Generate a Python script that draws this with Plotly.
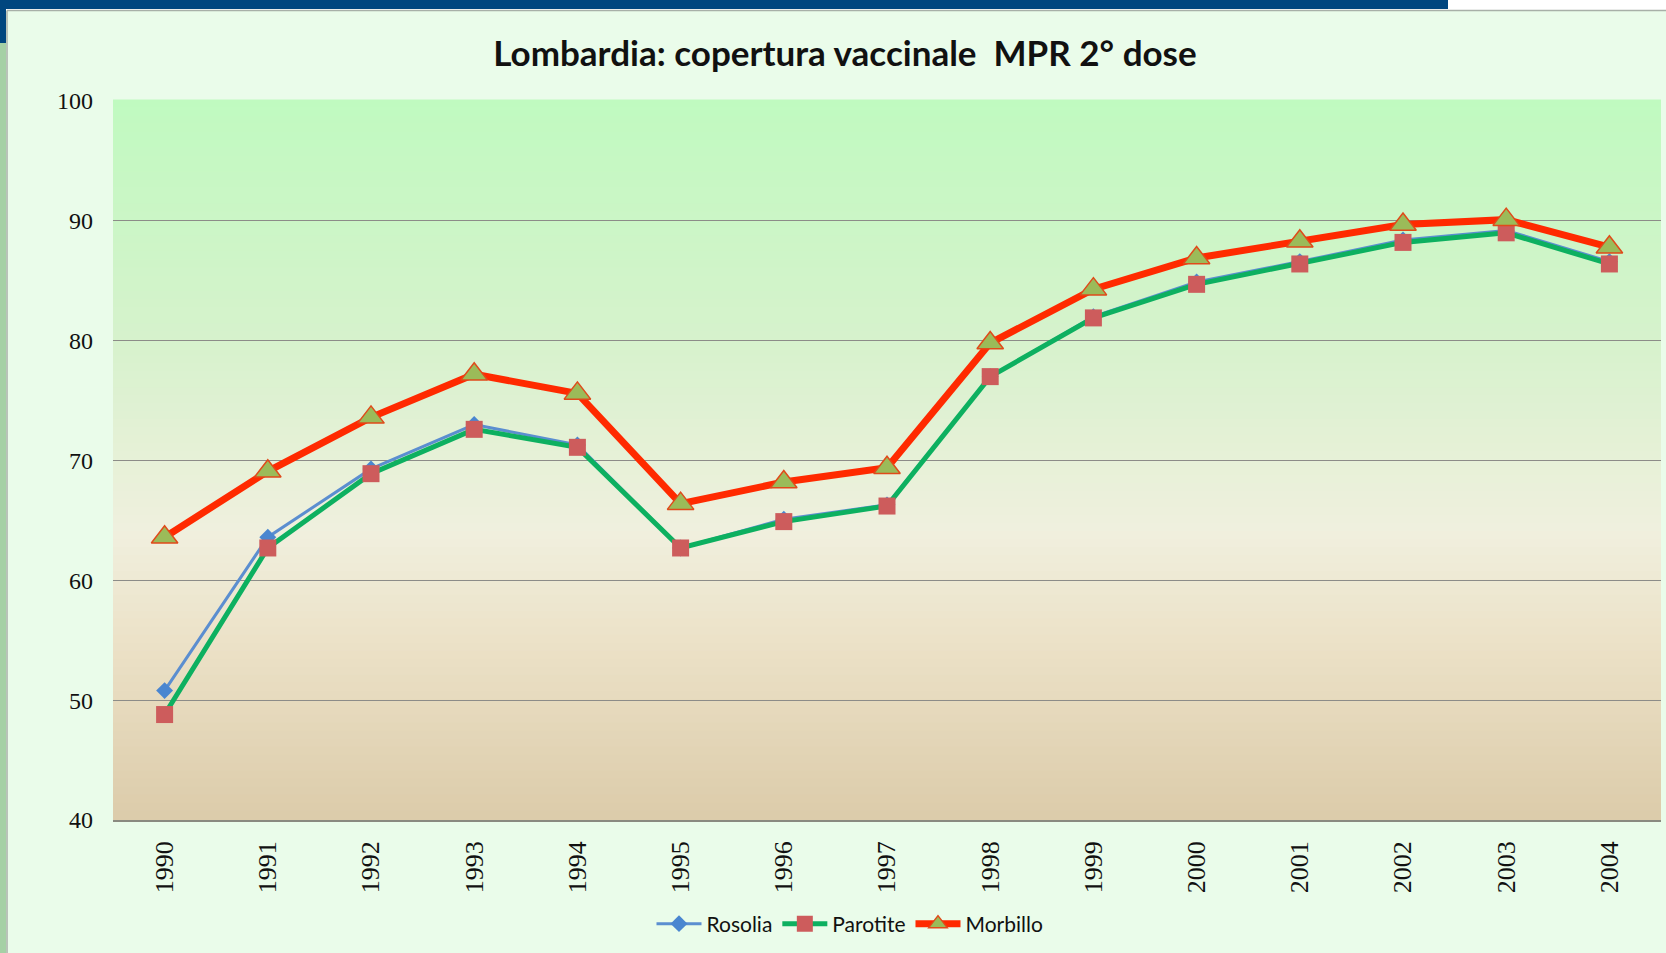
import plotly.graph_objects as go

years = ["1990", "1991", "1992", "1993", "1994", "1995", "1996", "1997",
         "1998", "1999", "2000", "2001", "2002", "2003", "2004"]
rosolia = [50.8, 63.6, 69.3, 73.0, 71.3, 62.7, 65.1, 66.3, 77.0, 82.0, 84.9, 86.6, 88.4, 89.2, 86.6]
parotite = [48.8, 62.7, 68.9, 72.6, 71.1, 62.7, 64.9, 66.2, 77.0, 81.9, 84.7, 86.4, 88.2, 89.0, 86.4]
morbillo = [63.6, 69.1, 73.6, 77.2, 75.6, 66.4, 68.2, 69.4, 79.8, 84.3, 86.9, 88.3, 89.7, 90.1, 87.8]
y_ticks = [40, 50, 60, 70, 80, 90, 100]

W, H = 1666, 953
L, R, T, B = 113, 1661, 101, 820


def px(x):
    return (x - L) / (R - L)


def py(y):
    return (B - y) / (B - T)


fig = go.Figure()
fig.add_trace(go.Scatter(
    x=years, y=rosolia, name="Rosolia", mode="lines+markers",
    line=dict(color="#5b8ed0", width=3),
    marker=dict(symbol="diamond", size=13, color="#4a86d0"),
))
fig.add_trace(go.Scatter(
    x=years, y=parotite, name="Parotite", mode="lines+markers",
    line=dict(color="#0db060", width=5),
    marker=dict(symbol="square", size=17, color="#cd5c5c"),
))
fig.add_trace(go.Scatter(
    x=years, y=morbillo, name="Morbillo", mode="lines+markers",
    line=dict(color="#ff2a00", width=7),
    marker=dict(symbol="triangle-up", size=23, color="#9bbb59",
                line=dict(color="#e04a1a", width=1.5)),
))

shapes = []
# gradient background of plot area
stops = [(0.0, (192, 250, 192)), (0.33, (214, 242, 204)), (0.6, (240, 240, 222)),
         (0.75, (236, 226, 200)), (1.0, (220, 203, 170))]


def col(t):
    for (t0, c0), (t1, c1) in zip(stops[:-1], stops[1:]):
        if t0 <= t <= t1:
            f = (t - t0) / (t1 - t0)
            return "rgb(%d,%d,%d)" % tuple(round(a + (b - a) * f) for a, b in zip(c0, c1))
    return "rgb(%d,%d,%d)" % stops[-1][1]


N = 90
for i in range(N):
    t0 = i / N
    t1 = (i + 1) / N
    shapes.append(dict(type="rect", xref="paper", yref="paper", x0=0, x1=1,
                       y0=1 - t1, y1=1 - t0 + 0.002, fillcolor=col((t0 + t1) / 2),
                       line=dict(width=0), layer="below"))

# slide frame
frame = [
    (0, W, 0, 10.5, "#ffffff"),
    (0, 1448, 0, 9, "#00467f"),
    (0, 6, 0, 43, "#00467f"),
    (0, 6, 43, H, "#a5d0a5"),
]
for x0, x1, y0, y1, c in frame:
    shapes.append(dict(type="rect", xref="paper", yref="paper", x0=px(x0), x1=px(x1),
                       y0=py(y1), y1=py(y0), fillcolor=c, line=dict(width=0), layer="below"))
shapes.append(dict(type="line", xref="paper", yref="paper", x0=px(7), x1=px(W),
                   y0=py(10.5), y1=py(10.5), line=dict(color="#a8b0a8", width=1.5), layer="below"))
shapes.append(dict(type="line", xref="paper", yref="paper", x0=px(7), x1=px(7),
                   y0=py(10.5), y1=py(H), line=dict(color="#a8b0a8", width=1.5), layer="below"))

fig.update_layout(
    width=W, height=H,
    margin=dict(l=L, r=W - R, t=T, b=H - B, pad=0),
    paper_bgcolor="#eafcea",
    plot_bgcolor="rgba(0,0,0,0)",
    shapes=shapes,
    title=dict(text="Lombardia: copertura vaccinale  MPR 2° dose",
               x=845 / W, xanchor="center", y=1 - 54 / H, yanchor="middle",
               font=dict(family="Lato", size=35, color="#111111", weight="bold")),
    showlegend=True,
    legend=dict(orientation="h", x=px(850), xanchor="center", y=py(924), yanchor="middle",
                font=dict(family="Lato", size=21, color="#111111"),
                bgcolor="rgba(0,0,0,0)", itemwidth=45, tracegroupgap=0),
    xaxis=dict(type="category", range=[-0.5, len(years) - 0.5], showgrid=False, zeroline=False,
               showline=True, linecolor="#8a8a80", linewidth=1.5,
               tickangle=-90, ticks="", ticklabelstandoff=9,
               tickfont=dict(family="Liberation Serif", size=26, color="#111111")),
    yaxis=dict(range=[40, 100], tickvals=y_ticks, showgrid=True,
               gridcolor="#8c8c88", gridwidth=1, zeroline=False, showline=False,
               ticks="", ticklabelstandoff=19,
               tickfont=dict(family="Liberation Serif", size=24, color="#111111")),
)

fig.write_html("out.html", config={"displayModeBar": False},
               post_script="document.body.style.margin='0';document.body.style.overflow='hidden';")
